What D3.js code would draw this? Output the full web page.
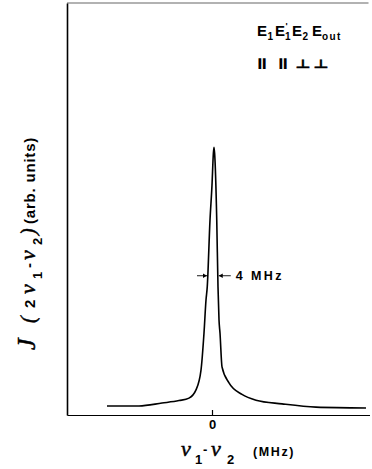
<!DOCTYPE html>
<html>
<head>
<meta charset="utf-8">
<script src="https://cdn.jsdelivr.net/npm/d3@7/dist/d3.min.js"></script>
<style>
  body { margin: 0; background: #fff; }
  svg { display: block; }
  .b { font-family: "Liberation Sans", Arial, sans-serif; font-weight: bold; }
  .nu { font-family: "Liberation Serif", "DejaVu Serif", serif; font-style: italic; font-weight: normal; stroke: #000; stroke-width: 0.5; }
</style>
</head>
<body>
<svg id="chart" width="372" height="469"></svg>
<script>
// Detuning nu1 - nu2 (MHz) and signal intensity (arb. units)
const detuning = [-42, -29.2, -20, -13.2, -9.2, -6.4, -4.4, -3.2, -2.4, -1.9, -0.8, 0, 0.55, 0.8, 1.05, 1.9, 2.4, 2.8, 3.2, 4.0, 6.8, 12, 17.6, 28, 41.6, 61.6];
const intensity = [0.22, 0.22, 0.29, 0.35, 0.41, 0.61, 1.09, 1.99, 2.79, 3.11, 4.73, 5.58, 6.35, 6.50, 6.35, 4.73, 3.11, 2.31, 1.99, 1.17, 0.78, 0.50, 0.36, 0.27, 0.19, 0.17];
const xTicks = [0];
const xDomain = [-58, 63];
const yDomain = [0, 10];
const fwhmLabel = "4 MHz";
const fwhmY = 3.38;            // intensity level of the width arrows
const fwhmEdges = [-1.6, 2.3]; // MHz, line positions at that level
const fields = [["E", "1", ""], ["E", "1", "'"], ["E", "2", ""], ["E", "out", ""]];
const polarizations = ["\u2225", "\u2225", "\u22A5", "\u22A5"];

const svg = d3.select("#chart");
const mLeft = 67, mRight = 369.5, mTop = 3, mBottom = 415;
const x = d3.scaleLinear().domain(xDomain).range([mLeft, mRight]);
const y = d3.scaleLinear().domain(yDomain).range([mBottom, mTop]);

// top frame line
svg.append("line").attr("x1", mLeft).attr("x2", mRight - 1).attr("y1", mTop).attr("y2", mTop)
  .attr("stroke", "#666").attr("stroke-width", 1.2);

// axes
const xAxis = d3.axisBottom(x).tickValues(xTicks).tickSizeInner(-5).tickSizeOuter(0).tickFormat(d3.format("d"));
const gx = svg.append("g").attr("transform", `translate(0,${mBottom})`).call(xAxis);
gx.select(".domain").attr("stroke", "#000").attr("stroke-width", 1.2);
gx.selectAll(".tick line").attr("stroke", "#000").attr("stroke-width", 1.2).attr("y1", 1);
gx.selectAll(".tick text").attr("class", "b").attr("font-size", 13).attr("fill", "#000")
  .attr("y", 14).attr("dy", 0);

const yAxis = d3.axisLeft(y).tickValues([]).tickSizeOuter(0);
const gy = svg.append("g").attr("transform", `translate(${mLeft},0)`).call(yAxis);
gy.select(".domain").attr("stroke", "#000").attr("stroke-width", 1.6);

// curve
const pts = detuning.map((d, i) => [d, intensity[i]]);
svg.append("path").datum(pts)
  .attr("fill", "none").attr("stroke", "#000").attr("stroke-width", 1.6).attr("stroke-linejoin", "round")
  .attr("d", d3.line().x(d => x(d[0])).y(d => y(d[1])).curve(d3.curveMonotoneX));

// FWHM arrows
const ay = y(fwhmY);
function arrow(x1, x2) {
  svg.append("line").attr("x1", x1).attr("x2", x2).attr("y1", ay).attr("y2", ay)
    .attr("stroke", "#000").attr("stroke-width", 0.9);
  const dir = Math.sign(x2 - x1);
  svg.append("path").attr("d", `M${x2},${ay} L${x2 - dir * 4},${ay - 2.2} L${x2 - dir * 4},${ay + 2.2} Z`).attr("fill", "#000");
}
arrow(x(fwhmEdges[0]) - 11, x(fwhmEdges[0]) - 1);
arrow(x(fwhmEdges[1]) + 13, x(fwhmEdges[1]) + 1);
svg.append("text").attr("class", "b").attr("x", x(fwhmEdges[1]) + 18).attr("y", ay + 4.5)
  .attr("font-size", 12.5).attr("letter-spacing", 2.4).text(fwhmLabel);

// polarization legend
const eX = [257, 275, 292, 312];
const subX = [267.5, 285, 302.5, 322];
fields.forEach((f, i) => {
  const t = svg.append("text").attr("class", "b").attr("y", 36);
  t.append("tspan").attr("x", eX[i]).attr("font-size", 15).text(f[0]);
  if (f[2]) t.append("tspan").attr("x", subX[i] + 0.5).attr("y", 28.5).attr("font-size", 9).text(f[2]);
  t.append("tspan").attr("x", subX[i]).attr("y", 40).attr("font-size", 10)
    .attr("letter-spacing", f[1].length > 1 ? 1.4 : 0).text(f[1]);
});
const polX = [262, 283, 303, 321];
polarizations.forEach((s, i) => {
  const par = i < 2;
  svg.append("text").attr("transform", `translate(${polX[i]},${par ? 67 : 68}) scale(${par ? 2.1 : 1.4},1)`)
    .attr("text-anchor", "middle")
    .attr("font-family", "DejaVu Sans, sans-serif").attr("font-weight", "bold").attr("font-size", par ? 11 : 12)
    .attr("stroke", "#000").attr("stroke-width", par ? 0 : 0.3).text(s);
});

// x label
const xl = svg.append("text").attr("y", 456).attr("class", "b").attr("font-size", 13);
xl.append("tspan").attr("class", "nu").attr("x", 181).attr("font-size", 22).text("\u03BD");
xl.append("tspan").attr("x", 195).attr("y", 464).attr("font-size", 13).text("1");
xl.append("tspan").attr("x", 203).attr("y", 454).text("-");
xl.append("tspan").attr("class", "nu").attr("x", 211).attr("y", 456).attr("font-size", 22).text("\u03BD");
xl.append("tspan").attr("x", 227).attr("y", 464).attr("font-size", 13).text("2");
xl.append("tspan").attr("x", 253).attr("y", 456).attr("font-size", 12.5).attr("letter-spacing", 1.6).text("(MHz)");

// y label (rotated; x is distance along the text from its start at page y=350)
const yl = svg.append("text").attr("transform", "translate(35,350) rotate(-90)").attr("class", "b").attr("font-size", 15);
yl.append("tspan").attr("class", "nu").attr("x", 0).attr("y", 0).attr("font-size", 26).text("J");
yl.append("tspan").attr("class", "nu").attr("x", 27).attr("y", 0).attr("font-size", 20).text("(");
yl.append("tspan").attr("x", 42).attr("y", 0).text("2");
yl.append("tspan").attr("class", "nu").attr("x", 56).attr("y", 0).attr("font-size", 22).text("\u03BD");
yl.append("tspan").attr("x", 71).attr("y", 7).attr("font-size", 13).text("1");
yl.append("tspan").attr("x", 82).attr("y", -1).text("-");
yl.append("tspan").attr("class", "nu").attr("x", 90).attr("y", 0).attr("font-size", 22).text("\u03BD");
yl.append("tspan").attr("x", 105).attr("y", 7).attr("font-size", 13).text("2");
yl.append("tspan").attr("class", "nu").attr("x", 115).attr("y", 0).attr("font-size", 20).text(")");
yl.append("tspan").attr("x", 126).attr("y", 0).attr("font-size", 15).attr("letter-spacing", 0.8).text("(arb. units)");
</script>
</body>
</html>
